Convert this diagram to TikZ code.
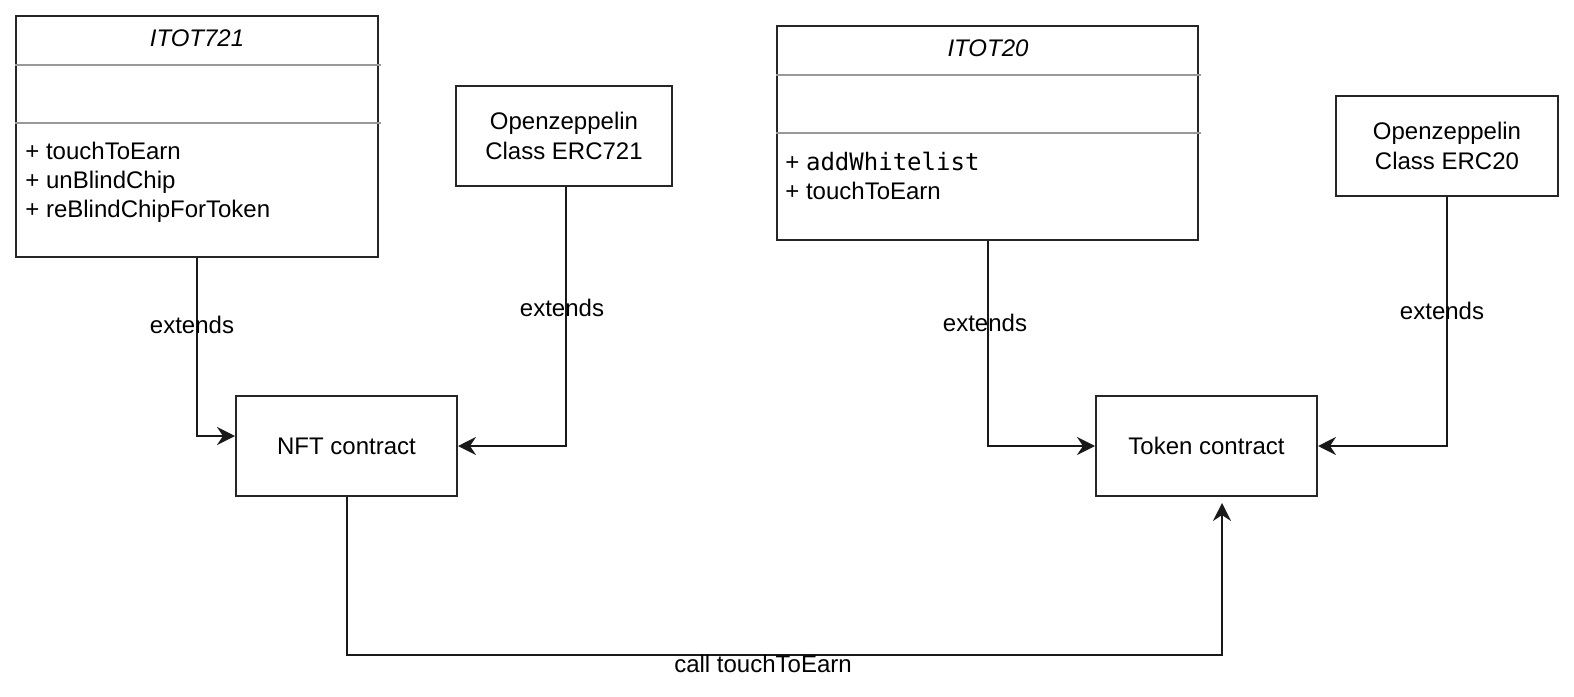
\documentclass[tikz,border=0pt]{standalone}
\usepackage{fontspec}
\setmainfont{Liberation Sans}
\setmonofont{DejaVu Sans Mono}
\usetikzlibrary{arrows.meta}
\begin{document}
\begin{tikzpicture}[x=0.5pt,y=-0.5pt,
  box/.style={draw=black!85, line width=1pt, fill=white, inner sep=0pt, align=center, font=\fontsize{12}{15}\selectfont},
  conn/.style={draw=black!90, line width=1pt, -{Stealth[length=9pt,width=9pt,inset=3pt]}},
  sep/.style={draw=black!40, line width=1.3pt},
  lbl/.style={inner sep=0pt, font=\fontsize{12}{15}\selectfont},
  meth/.style={inner sep=0pt, anchor=north west, align=left, font=\fontsize{12}{14.5}\selectfont}]
\useasboundingbox (0,0) rectangle (1574,696);
\fill[white] (0,0) rectangle (1574,696);
% class boxes
\node[box, minimum width=181pt, minimum height=120.5pt] (itot721) at (197,136.5) {};
\node[box, minimum width=210.5pt, minimum height=107pt] (itot20) at (987.5,133) {};
\node[box, minimum width=108pt, minimum height=50pt] (erc721) at (564,136) {Openzeppelin\\Class ERC721};
\node[box, minimum width=111pt, minimum height=50pt] (erc20) at (1447,146) {Openzeppelin\\Class ERC20};
\node[box, minimum width=110.5pt, minimum height=50pt] (nft) at (346.5,446) {NFT contract};
\node[box, minimum width=110.5pt, minimum height=50pt] (token) at (1206.5,446) {Token contract};
% ITOT721 compartments
\node[lbl, font=\fontsize{12}{15}\selectfont\itshape] (t721) at (197,38.5) {ITOT721};
\draw[sep] (itot721.west |- 0,65) -- ([xshift=1pt]itot721.east |- 0,65);
\draw[sep] (itot721.west |- 0,123) -- ([xshift=1pt]itot721.east |- 0,123);
\node[meth] (m721) at (25,141.5) {+ touchToEarn\\+ unBlindChip\\+ reBlindChipForToken};
% ITOT20 compartments
\node[lbl, font=\fontsize{12}{15}\selectfont\itshape] (t20) at (988,48.5) {ITOT20};
\draw[sep] (itot20.west |- 0,75) -- ([xshift=1pt]itot20.east |- 0,75);
\draw[sep] (itot20.west |- 0,133) -- ([xshift=1pt]itot20.east |- 0,133);
\node[meth] (m20) at (785,151.5) {+ \texttt{addWhitelist}\\+ touchToEarn};
% connectors
\draw[conn] (itot721.south) |- ([yshift=5pt]nft.west);
\draw[conn] ([xshift=1pt]erc721.south) |- (nft.east);
\draw[conn] (itot20.south) |- (token.west);
\draw[conn] (erc20.south) |- (token.east);
\draw[conn] (nft.south) -- ++(0,158) -| ([xshift=7.75pt,yshift=-3pt]token.south);
% labels
\node[lbl] (e1) at (192,325) {extends};
\node[lbl] (e2) at (562,308) {extends};
\node[lbl] (e3) at (985,323) {extends};
\node[lbl] (e4) at (1442,311) {extends};
\node[lbl] (call) at (763,664) {call touchToEarn};
\end{tikzpicture}
\end{document}
